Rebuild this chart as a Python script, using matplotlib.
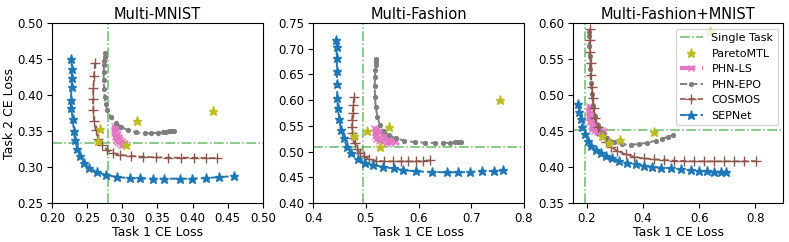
import matplotlib
matplotlib.use("Agg")
from matplotlib import pyplot as plt

titles = ["Multi-MNIST", "Multi-Fashion", "Multi-Fashion+MNIST"]

# single task reference (task1, task2)
single_task = [(0.280, 0.333), (0.494, 0.508), (0.195, 0.452)]

# ---- Multi-MNIST ----
mnist_pareto_x = [0.2678, 0.2654, 0.3213, 0.4290, 0.3048]
mnist_pareto_y = [0.3532, 0.3356, 0.3639, 0.3778, 0.3300]

mnist_ls_x = [0.2880, 0.2882, 0.2886, 0.2895, 0.2910, 0.2930, 0.2955, 0.2985, 0.3010,
              0.3045, 0.3020, 0.2995, 0.2970, 0.2950, 0.2935, 0.2925, 0.2920]
mnist_ls_y = [0.357, 0.352, 0.347, 0.342, 0.338, 0.335, 0.333, 0.331, 0.3305,
              0.332, 0.334, 0.336, 0.339, 0.342, 0.346, 0.351, 0.356]

mnist_epo_x = [0.2754, 0.2749, 0.2744, 0.2740, 0.2735, 0.2735, 0.2740, 0.2749, 0.2763, 0.2787,
               0.2834, 0.2906, 0.2986, 0.3081, 0.3200, 0.3318, 0.3413, 0.3508, 0.3579, 0.3626,
               0.3664, 0.3697, 0.3731]
mnist_epo_y = [0.4583, 0.4528, 0.4472, 0.4412, 0.4320, 0.4204, 0.4088, 0.3972, 0.3870, 0.3787,
               0.3694, 0.3611, 0.3555, 0.3509, 0.3481, 0.3468, 0.3468, 0.3477, 0.3486, 0.3491,
               0.3495, 0.3495, 0.3495]

mnist_cosmos_x = [0.2611, 0.2597, 0.2588, 0.2583, 0.2588, 0.2597, 0.2621, 0.2659, 0.2706, 0.2782,
                  0.2867, 0.2971, 0.3128, 0.3294, 0.3483, 0.3649, 0.3839, 0.4028, 0.4194, 0.4346]
mnist_cosmos_y = [0.4449, 0.4259, 0.4102, 0.3940, 0.3787, 0.3639, 0.3509, 0.3393, 0.3310, 0.3241,
                  0.3194, 0.3167, 0.3153, 0.3143, 0.3134, 0.3130, 0.3130, 0.3130, 0.3125, 0.3125]

mnist_sep_x = [0.2275, 0.2280, 0.2280, 0.2280, 0.2265, 0.2270, 0.2294, 0.2310, 0.2327, 0.2360,
               0.2393, 0.2455, 0.2526, 0.2640, 0.2763, 0.2924, 0.3105, 0.3247, 0.3436, 0.3600,
               0.3815, 0.3995, 0.4195, 0.4384, 0.4597]
mnist_sep_y = [0.4500, 0.4366, 0.4240, 0.4110, 0.3926, 0.3820, 0.3670, 0.3500, 0.3370, 0.3255,
               0.3153, 0.3060, 0.2986, 0.2930, 0.2893, 0.2860, 0.2847, 0.2842, 0.2838, 0.2838,
               0.2838, 0.2838, 0.2847, 0.2860, 0.2875]

# ---- Multi-Fashion ----
fashion_pareto_x = [0.4769, 0.5013, 0.5442, 0.5263, 0.7538]
fashion_pareto_y = [0.5296, 0.5394, 0.5478, 0.5089, 0.6009]

fashion_ls_x = [0.516, 0.517, 0.518, 0.520, 0.524, 0.530, 0.538, 0.546, 0.555,
                0.557, 0.550, 0.543, 0.536, 0.530, 0.525, 0.522,
                0.521, 0.526, 0.533, 0.541, 0.549]
fashion_ls_y = [0.545, 0.538, 0.531, 0.525, 0.521, 0.518, 0.517, 0.517, 0.518,
                0.521, 0.523, 0.526, 0.530, 0.535, 0.540, 0.544,
                0.535, 0.529, 0.524, 0.521, 0.520]

fashion_epo_x = [0.5199, 0.5192, 0.5186, 0.5180, 0.5173, 0.5167, 0.5173, 0.5186, 0.5218, 0.5269,
                 0.5346, 0.5442, 0.5571, 0.5731, 0.5923, 0.6115, 0.6308, 0.6468, 0.6596, 0.6692,
                 0.6756, 0.6808]
fashion_epo_y = [0.6807, 0.6742, 0.6677, 0.6580, 0.6450, 0.6269, 0.6061, 0.5867, 0.5672, 0.5510,
                 0.5394, 0.5316, 0.5258, 0.5212, 0.5186, 0.5173, 0.5167, 0.5167, 0.5173, 0.5180,
                 0.5186, 0.5186]

fashion_cosmos_x = [0.4776, 0.4763, 0.4750, 0.4737, 0.4737, 0.4744, 0.4756, 0.4788, 0.4833, 0.4885,
                    0.4962, 0.5058, 0.5186, 0.5346, 0.5506, 0.5667, 0.5795, 0.5955, 0.6083, 0.6212]
fashion_cosmos_y = [0.6061, 0.5912, 0.5757, 0.5608, 0.5478, 0.5368, 0.5271, 0.5167, 0.5057, 0.4972,
                    0.4908, 0.4856, 0.4823, 0.4810, 0.4810, 0.4810, 0.4810, 0.4810, 0.4817, 0.4830]

fashion_sep_x = [0.4436, 0.4442, 0.4449, 0.4449, 0.4455, 0.4455, 0.4468, 0.4494, 0.4526, 0.4577,
                 0.4641, 0.4724, 0.4846, 0.4981, 0.5135, 0.5333, 0.5526, 0.5699, 0.5955, 0.6256,
                 0.6532, 0.6756, 0.6981, 0.7205, 0.7429, 0.7603]
fashion_sep_y = [0.7176, 0.7033, 0.6826, 0.6567, 0.6308, 0.6042, 0.5847, 0.5627, 0.5426, 0.5264,
                 0.5089, 0.4972, 0.4856, 0.4785, 0.4739, 0.4700, 0.4674, 0.4642, 0.4616, 0.4603,
                 0.4597, 0.4597, 0.4603, 0.4623, 0.4623, 0.4635]

# ---- Multi-Fashion+MNIST ----
fm_pareto_x = [0.253, 0.279, 0.317, 0.439, 0.640]
fm_pareto_y = [0.443, 0.433, 0.4375, 0.448, 0.587]

fm_ls_x = [0.207, 0.206, 0.207, 0.209, 0.213, 0.219, 0.227, 0.236, 0.246, 0.256,
           0.262, 0.254, 0.244, 0.235, 0.227, 0.221, 0.217, 0.215, 0.214]
fm_ls_y = [0.485, 0.478, 0.470, 0.463, 0.457, 0.453, 0.450, 0.448, 0.447, 0.447,
           0.450, 0.451, 0.453, 0.456, 0.460, 0.464, 0.470, 0.477, 0.484]

fm_epo_x = [0.2060, 0.2071, 0.2083, 0.2095, 0.2118, 0.2142, 0.2178, 0.2225, 0.2296, 0.2403,
            0.2557, 0.2734, 0.2971, 0.3267, 0.3563, 0.3859, 0.4155, 0.4451, 0.4688, 0.4889,
            0.5067]
fm_epo_y = [0.5880, 0.5819, 0.5680, 0.5542, 0.5356, 0.5171, 0.5009, 0.4847, 0.4708, 0.4579,
            0.4477, 0.4407, 0.4347, 0.4315, 0.4310, 0.4319, 0.4338, 0.4366, 0.4393, 0.4421,
            0.4444]

fm_cosmos_x = [0.2107, 0.2118, 0.2118, 0.2130, 0.2142, 0.2166, 0.2201, 0.2237, 0.2296, 0.2379,
               0.2497, 0.2675, 0.2852, 0.3090, 0.3386, 0.3682, 0.4037, 0.4392, 0.4747, 0.5103,
               0.5458, 0.5813, 0.6168, 0.6524, 0.6879, 0.7234, 0.7589, 0.8004]
fm_cosmos_y = [0.5912, 0.5764, 0.5602, 0.5440, 0.5278, 0.5116, 0.4954, 0.4815, 0.4676, 0.4560,
               0.4444, 0.4352, 0.4282, 0.4222, 0.4176, 0.4143, 0.4120, 0.4106, 0.4097, 0.4088,
               0.4083, 0.4079, 0.4079, 0.4079, 0.4079, 0.4079, 0.4079, 0.4083]

fm_sep_x = [0.1690, 0.1727, 0.1787, 0.1844, 0.1940, 0.2046, 0.2165, 0.2320, 0.2497, 0.2697,
            0.2910, 0.3147, 0.3443, 0.3739, 0.4035, 0.4330, 0.4626, 0.4984, 0.5339, 0.5694,
            0.5990, 0.6263, 0.6522, 0.6760, 0.6959]
fm_sep_y = [0.4875, 0.4768, 0.4662, 0.4560, 0.4458, 0.4365, 0.4292, 0.4236, 0.4190, 0.4153,
            0.4120, 0.4088, 0.4060, 0.4042, 0.4018, 0.4004, 0.3990, 0.3982, 0.3968, 0.3954,
            0.3944, 0.3940, 0.3935, 0.3935, 0.3935]

panels = [
    (mnist_pareto_x, mnist_pareto_y, mnist_ls_x, mnist_ls_y, mnist_epo_x, mnist_epo_y,
     mnist_cosmos_x, mnist_cosmos_y, mnist_sep_x, mnist_sep_y),
    (fashion_pareto_x, fashion_pareto_y, fashion_ls_x, fashion_ls_y, fashion_epo_x, fashion_epo_y,
     fashion_cosmos_x, fashion_cosmos_y, fashion_sep_x, fashion_sep_y),
    (fm_pareto_x, fm_pareto_y, fm_ls_x, fm_ls_y, fm_epo_x, fm_epo_y,
     fm_cosmos_x, fm_cosmos_y, fm_sep_x, fm_sep_y),
]

xlims = [(0.20, 0.50), (0.4, 0.8), (0.15, 0.9)]
ylims = [(0.25, 0.50), (0.40, 0.75), (0.35, 0.60)]
xticks = [[0.20, 0.25, 0.30, 0.35, 0.40, 0.45, 0.50], [0.4, 0.5, 0.6, 0.7, 0.8], [0.2, 0.4, 0.6, 0.8]]
yticks = [[0.25, 0.30, 0.35, 0.40, 0.45, 0.50],
          [0.40, 0.45, 0.50, 0.55, 0.60, 0.65, 0.70, 0.75],
          [0.35, 0.40, 0.45, 0.50, 0.55, 0.60]]

fig = plt.figure(figsize=(7.89, 2.42), dpi=100)
lefts = [0.066, 0.397, 0.726]
w, h, b = 0.267, 0.744, 0.161

for i in range(3):
    ax = fig.add_axes([lefts[i], b, w, h])
    px, py, lx, ly, ex, ey, cx, cy, sx, sy = panels[i]
    stx, sty = single_task[i]
    ax.axvline(stx, color='tab:green', ls='-.', lw=1.1, alpha=0.7)
    ax.axhline(sty, color='tab:green', ls='-.', lw=1.1, alpha=0.7, label='Single Task')
    ax.plot(px, py, ls='none', marker='*', color='tab:olive', ms=6.5, label='ParetoMTL', zorder=4)
    ax.plot(lx, ly, ls='--', marker='x', color='tab:pink', ms=4.5, lw=3, label='PHN-LS')
    ax.plot(ex, ey, ls='--', marker='.', color='tab:gray', ms=5.5, lw=1.4, label='PHN-EPO')
    ax.plot(cx, cy, ls='--', marker='+', color='tab:brown', ms=7, lw=1.2, label='COSMOS')
    ax.plot(sx, sy, ls='--', marker='*', color='tab:blue', ms=6.5, lw=1.4, label='SEPNet')
    ax.set_xlim(xlims[i])
    ax.set_ylim(ylims[i])
    ax.set_xticks(xticks[i])
    ax.set_yticks(yticks[i])
    ax.tick_params(labelsize=8.5, length=3.5, pad=3)
    ax.set_title(titles[i], fontsize=10.5, pad=3)
    ax.set_xlabel("Task 1 CE Loss", fontsize=9, labelpad=1)
    if i == 0:
        ax.set_ylabel("Task 2 CE Loss", fontsize=9, labelpad=1)
    if i == 2:
        ax.legend(loc='upper right', fontsize=8)

fig.savefig("out.png", dpi=100)
